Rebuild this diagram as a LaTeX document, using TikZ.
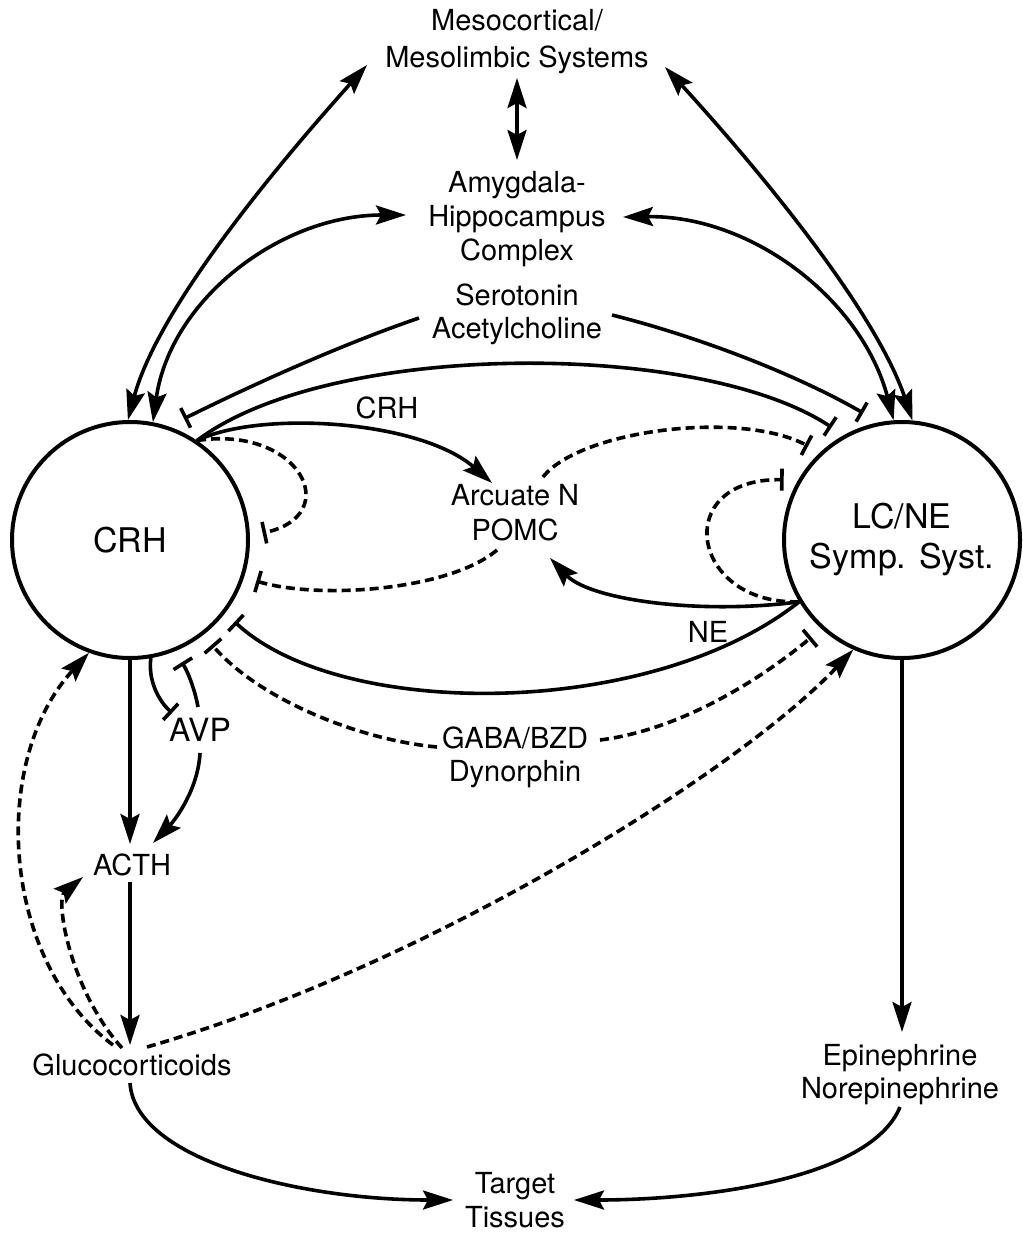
\documentclass[tikz,border=0pt]{standalone}
\usepackage{fontspec}
\setmainfont{TeX Gyre Heros}
\usetikzlibrary{arrows.meta}
\tikzset{
  inh/.style={-{Bar[width=22pt]}},
  dsh/.style={dash pattern=on 9pt off 5pt},
  lbl/.style={font=\fontsize{29}{34}\selectfont, align=center, inner sep=0pt},
  bigcirc/.style={circle, draw, line width=4pt, minimum size=236pt, inner sep=0pt,
    font=\fontsize{34}{40}\selectfont, align=center},
  ring/.style={circle, minimum size=262pt, inner sep=0pt},
}
\begin{document}
\begin{tikzpicture}[x=1pt, y=-1pt, line width=3.6pt,
  >={Stealth[length=30pt,width=19pt,inset=5pt]}]
\useasboundingbox (0,0) rectangle (1022,1233);

% main circles
\node[bigcirc] (crh) at (130,540) {CRH};
\node[bigcirc] (lc) at (902,540) {LC/NE\\Symp. Syst.};
\node[ring] (crhb) at (130,540) {};
\node[ring] (lcb) at (902,540) {};

% text nodes
\node[lbl, font=\fontsize{29}{37}\selectfont] (meso) at (517,41.5) {Mesocortical/\\Mesolimbic Systems};
\node[lbl] (amy) at (517,219.5) {Amygdala-\\Hippocampus\\Complex};
\node[lbl, font=\fontsize{29}{33}\selectfont] (sero) at (517,314.5) {Serotonin\\Acetylcholine};
\node[lbl] (crhlab) at (387,408) {CRH};
\node[lbl, font=\fontsize{29}{35}\selectfont] (arc) at (515,512.8) {Arcuate N\\POMC};
\node[lbl] (ne) at (708,632) {NE};
\node[lbl, font=\fontsize{32}{36}\selectfont] (avp) at (200,730) {AVP};
\node[lbl, font=\fontsize{29}{33}\selectfont] (gaba) at (515,757.5) {GABA/BZD\\Dynorphin};
\node[lbl] (acth) at (132,865) {ACTH};
\node[lbl] (gluco) at (132,1065) {Glucocorticoids};
\node[lbl, font=\fontsize{29}{33}\selectfont] (epi) at (900,1074.5) {Epinephrine\\Norepinephrine};
\node[lbl] (target) at (515,1200) {Target\\Tissues};

% top system
\draw[<->] ([shift={(-150,23.5)}]meso.center) .. controls (300,140) and (160,300) .. (crh.91);
\draw[<->] ([shift={(148,25.5)}]meso.center) .. controls (732,140) and (872,300) .. (lc.85);
\draw[<->] ([shift={(0,36.5)}]meso.center) -- ([shift={(0,-59.5)}]amy.center);
\draw[<->] ([shift={(-111,-4.5)}]amy.center) .. controls (280,215) and (170,300) .. (crh.79);
\draw[<->] ([shift={(106,-2.5)}]amy.center) .. controls (752,215) and (862,300) .. (lc.94);

% serotonin / acetylcholine
\draw[inh] ([shift={(-98,3.5)}]sero.center) .. controls (340,345) and (250,386) .. (crhb.66);
\draw[inh] ([shift={(95,0.5)}]sero.center) .. controls (692,335) and (792,372) .. (lcb.107);

% CRH outputs
\draw[inh] (crh.56) .. controls (330,340) and (700,340) .. (lcb.122);
\draw[->] (crh.56) .. controls (260,410) and (420,420) .. ([shift={(-23,-29.8)}]arc.center);
\draw[inh,dsh] (crh.56) .. controls (300,425) and (345,515) .. (crhb.3);

% POMC feedback
\draw[inh,dsh] ([shift={(-18,37.2)}]arc.center) .. controls (450,590) and (320,600) .. (crhb.-18);
\draw[inh,dsh] ([shift={(28,-35.8)}]arc.center) .. controls (580,430) and (740,410) .. (lcb.135);

% LC outputs
\draw[inh] (lc.211) .. controls (650,720) and (340,720) .. (crhb.-38);
\draw[->] (lc.211) .. controls (700,615) and (590,600) .. ([shift={(35,45.2)}]arc.center);
\draw[inh,dsh] (lc.211) .. controls (690,605) and (670,478) .. (lcb.153);

% GABA / BZD
\draw[inh,dsh] ([shift={(-78,-10.5)}]gaba.center) .. controls (360,740) and (260,700) .. (crhb.-52);
\draw[inh,dsh] ([shift={(85,-17.5)}]gaba.center) .. controls (680,730) and (760,680) .. (lcb.227);

% AVP
\draw[inh] (crh.-80) .. controls (148,680) and (158,700) .. ([shift={(-28,-17)}]avp.center);
\draw[inh] ([shift={(-2,-23)}]avp.center) .. controls (195,690) and (188,672) .. (crhb.-67);

% HPA axis
\draw[->] (crh.south) -- ([shift={(-2,-21)}]acth.center);
\draw[->] ([shift={(0,23)}]avp.center) .. controls (198,790) and (175,820) .. ([shift={(21,-22)}]acth.center);
\draw[->] ([shift={(-2,17)}]acth.center) -- ([shift={(-2,-20)}]gluco.center);
\draw[->,dsh] ([shift={(-19,-20)}]gluco.center) .. controls (0,960) and (-10,760) .. (crh.250);
\draw[->,dsh] ([shift={(-10,-17)}]gluco.center) .. controls (70,990) and (55,900) .. ([shift={(-49,12)}]acth.center);
\draw[->,dsh] ([shift={(15,-18)}]gluco.center) .. controls (430,965) and (740,770) .. (lc.246);

% sympathetic
\draw[->] (lc.south) -- ([shift={(2,-42.5)}]epi.center);

% targets
\draw[->] ([shift={(-2,18)}]gluco.center) .. controls (135,1160) and (300,1200) .. ([shift={(-62,0)}]target.center);
\draw[->] ([shift={(0,32.5)}]epi.center) .. controls (870,1180) and (700,1200) .. ([shift={(59,0)}]target.center);
\end{tikzpicture}
\end{document}
